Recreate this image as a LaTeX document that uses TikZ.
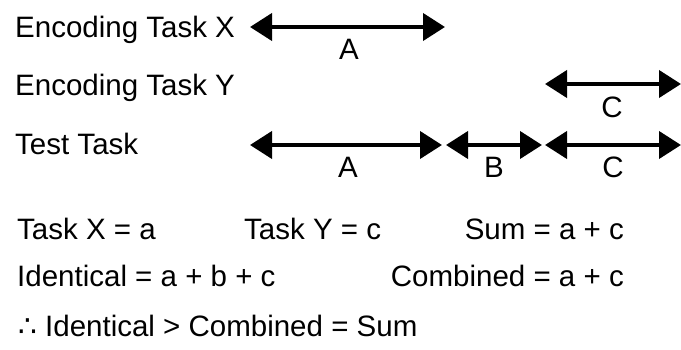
\documentclass[tikz,border=0pt]{standalone}
\usepackage{fontspec}
\setmainfont{Liberation Sans}
\newfontfamily\dotsfont{DejaVu Sans}
\usetikzlibrary{arrows.meta,positioning}

\begin{document}
\begin{tikzpicture}[x=1pt, y=-1pt, font=\fontsize{29.5}{35}\selectfont,
  >={Triangle[length=22pt,width=27pt]},
  span/.style={line width=4pt,<->},
  rowtxt/.style={inner sep=0pt,anchor=base west},
  segtxt/.style={inner sep=0pt,anchor=base}]
\useasboundingbox (0,0) rectangle (681,350);
% --- task rows ---
\node[rowtxt] (encx) at (15,38) {Encoding Task X};
\node[rowtxt] (ency) at (15,96) {Encoding Task Y};
\node[rowtxt] (test) at (15,155) {Test Task};
% --- spans ---
\coordinate (xa) at (250,27);  \coordinate (xb) at (445,27);
\coordinate (ya) at (545,84);  \coordinate (yb) at (681,84);
\coordinate (ta) at (250,145); \coordinate (tb) at (442,145);
\coordinate (tc) at (446,145); \coordinate (td) at (542,145);
\coordinate (te) at (545,145); \coordinate (tf) at (681,145);
\draw[span] (xa) -- (xb);
\draw[span] (ya) -- (yb);
\draw[span] (ta) -- (tb);
\draw[span] (tc) -- (td);
\draw[span] (te) -- (tf);
\node[segtxt] (la1) at (349,60) {A};
\node[segtxt] (lc1) at (612,118) {C};
\node[segtxt] (la2) at (348,178) {A};
\node[segtxt] (lb2) at (494,178) {B};
\node[segtxt] (lc2) at (613,178) {C};
% --- scores ---
\node[rowtxt] (taskx) at (17,240) {Task X = a};
\node[rowtxt] (tasky) at (244,240) {Task Y = c};
\node[inner sep=0pt,anchor=base east] (sum) at (624,240) {Sum = a + c};
\node[rowtxt] (ident) at (17,287) {Identical = a + b + c};
\node[inner sep=0pt,anchor=base east] (comb) at (624,287) {Combined = a + c};
\node[rowtxt] (concl) at (18,337) {{\dotsfont ∴} Identical > Combined = Sum};
\end{tikzpicture}
\end{document}
